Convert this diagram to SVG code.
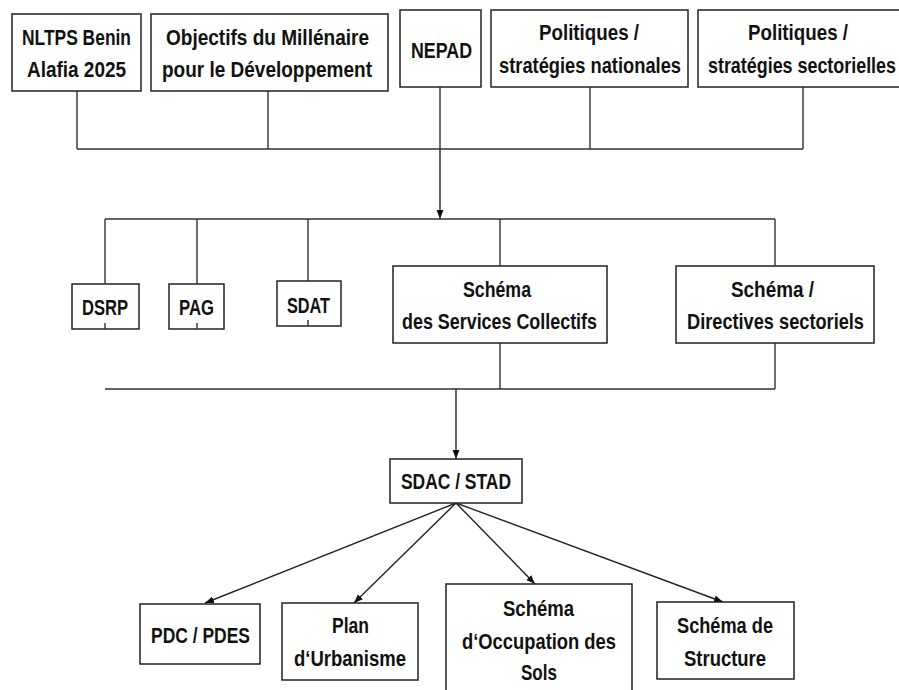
<svg xmlns="http://www.w3.org/2000/svg" width="899" height="690" viewBox="0 0 899 690">
<defs>
<style>
.box{fill:#fff;stroke:#222;stroke-width:1.5}
.t{font-family:"Liberation Sans Narrow","Liberation Sans",Arial,sans-serif;font-weight:bold;font-size:22px;fill:#111;text-anchor:middle}
.ln{fill:none;stroke:#333;stroke-width:1.4}
.ar{fill:none;stroke:#222;stroke-width:1.4;marker-end:url(#ah)}
</style>
<marker id="ah" markerUnits="userSpaceOnUse" markerWidth="10" markerHeight="8" refX="9" refY="3.5" orient="auto">
<path d="M0,0 L9,3.5 L0,7 z" fill="#111"/>
</marker>
</defs>
<rect width="899" height="690" fill="#fff"/>
<g id="connectors">
<path class="ln" d="M77,91 V149 M268,91 V149 M440,87 V149 M590,87 V149 M803,87 V149 M77,149 H803"/>
<path class="ar" d="M440,149 V219"/>
<path class="ln" d="M105,219 H775 M105,389 H775"/>
<path class="ln" d="M105,219 V284 M197,219 V284 M308,219 V281 M500,219 V266 M775,219 V266"/>
<path class="ln" d="M500,343 V389 M775,343 V389"/>
<path class="ar" d="M456,389 V459"/>
<path class="ar" d="M456,503 L205,603"/>
<path class="ar" d="M456,503 L354,603"/>
<path class="ar" d="M456,503 L535,584"/>
<path class="ar" d="M456,503 L723,602"/>
</g>
<g id="n-nltps"><rect class="box" x="12" y="14" width="129" height="77"/>
<text class="t" x="76.5" y="45" textLength="109" lengthAdjust="spacingAndGlyphs">NLTPS Benin</text>
<text class="t" x="76.5" y="77" textLength="99" lengthAdjust="spacingAndGlyphs">Alafia 2025</text></g>
<g id="n-omd"><rect class="box" x="151" y="14" width="237" height="77"/>
<text class="t" x="267.5" y="45" textLength="203" lengthAdjust="spacingAndGlyphs">Objectifs du Millénaire</text>
<text class="t" x="267" y="77" textLength="210" lengthAdjust="spacingAndGlyphs">pour le Développement</text></g>
<g id="n-nepad"><rect class="box" x="400" y="10" width="81" height="77"/>
<text class="t" x="441.5" y="58" textLength="61" lengthAdjust="spacingAndGlyphs">NEPAD</text></g>
<g id="n-polnat"><rect class="box" x="491" y="10" width="197" height="77"/>
<text class="t" x="589" y="40" textLength="100" lengthAdjust="spacingAndGlyphs">Politiques /</text>
<text class="t" x="590" y="73" textLength="182" lengthAdjust="spacingAndGlyphs">stratégies nationales</text></g>
<g id="n-polsec"><rect class="box" x="698" y="10" width="212" height="77"/>
<text class="t" x="798" y="40" textLength="100" lengthAdjust="spacingAndGlyphs">Politiques /</text>
<text class="t" x="802" y="73" textLength="188" lengthAdjust="spacingAndGlyphs">stratégies sectorielles</text></g>
<g id="n-dsrp"><rect class="box" x="72" y="284" width="67" height="45"/>
<text class="t" x="105" y="315" textLength="46" lengthAdjust="spacingAndGlyphs">DSRP</text></g>
<g id="n-pag"><rect class="box" x="169" y="284" width="55" height="45"/>
<text class="t" x="196.5" y="315" textLength="35" lengthAdjust="spacingAndGlyphs">PAG</text></g>
<g id="n-sdat"><rect class="box" x="277" y="281" width="64" height="45"/>
<text class="t" x="308.5" y="313" textLength="43" lengthAdjust="spacingAndGlyphs">SDAT</text></g>
<g id="n-ssc"><rect class="box" x="393" y="266" width="214" height="77"/>
<text class="t" x="497" y="297" textLength="68" lengthAdjust="spacingAndGlyphs">Schéma</text>
<text class="t" x="499.5" y="329" textLength="195" lengthAdjust="spacingAndGlyphs">des Services Collectifs</text></g>
<g id="n-sds"><rect class="box" x="676" y="266" width="198" height="77"/>
<text class="t" x="772.5" y="297" textLength="83" lengthAdjust="spacingAndGlyphs">Schéma /</text>
<text class="t" x="775.5" y="329" textLength="177" lengthAdjust="spacingAndGlyphs">Directives sectoriels</text></g>
<path class="ln" d="M105,323 V329 M197,323 V329 M308,320 V326"/>
<g id="n-sdac"><rect class="box" x="390" y="459" width="132" height="44"/>
<text class="t" x="456" y="489" textLength="110" lengthAdjust="spacingAndGlyphs">SDAC / STAD</text></g>
<g id="n-pdc"><rect class="box" x="140" y="604" width="120" height="60"/>
<text class="t" x="200.5" y="643" textLength="99" lengthAdjust="spacingAndGlyphs">PDC / PDES</text></g>
<g id="n-plan"><rect class="box" x="282" y="603" width="136" height="77"/>
<text class="t" x="350.5" y="633" textLength="37" lengthAdjust="spacingAndGlyphs">Plan</text>
<text class="t" x="350" y="666" textLength="112" lengthAdjust="spacingAndGlyphs">d‘Urbanisme</text></g>
<g id="n-sos"><rect class="box" x="446" y="584" width="186" height="116"/>
<text class="t" x="538.5" y="616" textLength="71" lengthAdjust="spacingAndGlyphs">Schéma</text>
<text class="t" x="539" y="649" textLength="154" lengthAdjust="spacingAndGlyphs">d‘Occupation des</text>
<text class="t" x="539" y="680" textLength="36" lengthAdjust="spacingAndGlyphs">Sols</text></g>
<g id="n-sst"><rect class="box" x="657" y="602" width="137" height="77"/>
<text class="t" x="725" y="633" textLength="96" lengthAdjust="spacingAndGlyphs">Schéma de</text>
<text class="t" x="725" y="666" textLength="82" lengthAdjust="spacingAndGlyphs">Structure</text></g>
</svg>
